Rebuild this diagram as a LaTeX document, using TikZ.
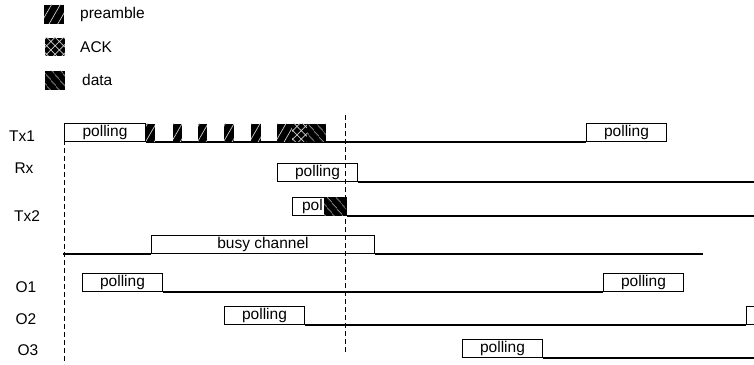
\documentclass[tikz,border=0pt]{standalone}
\usepackage{fontspec}
\setmainfont{Liberation Sans}
\usetikzlibrary{patterns.meta}
\begin{document}
\begin{tikzpicture}[x=1pt,y=-1pt,
  txt/.style={font=\fontsize{15.5}{15.5}\selectfont, inner sep=0pt},
  pbox/.style={draw, line width=1pt, fill=white, inner sep=0pt, anchor=south west,
    font=\fontsize{15.5}{15.5}\selectfont, minimum height=18.5pt},
  tl/.style={line width=1.1pt},
  vdash/.style={line width=1pt, dash pattern=on 5pt off 3pt},
  blk/.style={fill=black, inner sep=0pt, anchor=south west, minimum height=18pt},
  pre/.style={blk, postaction={pattern={Lines[angle=60,distance=7.5pt,line width=0.7pt]}, pattern color=white!80!black}},
  dat/.style={blk, postaction={pattern={Lines[angle=-50,distance=6.5pt,line width=0.7pt]}, pattern color=white!80!black}},
  ack/.style={blk, postaction={pattern={Hatch[angle=45,distance=6pt,line width=0.7pt]}, pattern color=white!80!black}},
]
\useasboundingbox (0,0) rectangle (754,364);
\clip (0,0) rectangle (754,364);

% legend
\node[pre, minimum width=20pt, minimum height=19pt] (lpre) at (44,24) {};
\node[txt, anchor=west] (lpret) at (80,14) {preamble};
\node[ack, minimum width=20pt, minimum height=18pt] (lack) at (45,56) {};
\node[txt, anchor=west] (lackt) at (80,47) {ACK};
\node[dat, minimum width=20pt, minimum height=19pt] (ldat) at (45,90) {};
\node[txt, anchor=west] (ldatt) at (82,80) {data};

% row labels
\node[txt] (ltx1) at (22,136) {Tx1};
\node[txt] (lrx) at (24,168) {Rx};
\node[txt] (ltx2) at (27,216) {Tx2};
\node[txt] (lo1) at (26,287) {O1};
\node[txt] (lo2) at (26,319) {O2};
\node[txt] (lo3) at (28,350) {O3};

% Tx1
\node[pbox, minimum width=81pt] (t1a) at (64,142) {polling};
\node[pbox, minimum width=80pt] (t1b) at (586,142) {polling};
\draw[tl] (t1a.south east) -- (t1b.south west);
\node[pre, minimum width=9pt] (p1) at (146,142) {};
\node[pre, minimum width=9pt] (p2) at (173,142) {};
\node[pre, minimum width=9pt] (p3) at (198,142) {};
\node[pre, minimum width=10pt] (p4) at (224,142) {};
\node[pre, minimum width=10pt] (p5) at (251,142) {};
\node[pre, minimum width=15pt] (p6) at (277,142) {};
\node[ack, minimum width=15pt] (a6) at (292,142) {};
\node[dat, minimum width=19pt] (d6) at (307,142) {};

% Rx
\node[pbox, minimum width=80pt] (rx) at (277,182) {polling};
\coordinate (rxe) at (755,182);
\draw[tl] (rx.south east) -- (rxe);

% Tx2
\node[pbox, minimum width=54pt] (tx2) at (292,216) {};
\node[dat, minimum width=22pt] (tx2d) at (324,216) {};
\node[txt, anchor=east] (tx2t) at (323,206) {pol};
\coordinate (tx2e) at (755,216);
\draw[tl] (tx2.south east) -- (tx2e);

% busy channel
\coordinate (bl) at (63,254);
\coordinate (br) at (703,254);
\node[pbox, minimum width=223pt] (busy) at (151,254) {busy channel};
\draw[tl] (bl) -- (busy.south west);
\draw[tl] (busy.south east) -- (br);

% O1
\node[pbox, minimum width=80pt] (o1a) at (82,292) {polling};
\node[pbox, minimum width=80pt] (o1b) at (603,292) {polling};
\draw[tl] (o1a.south east) -- (o1b.south west);

% O2
\node[pbox, minimum width=80pt] (o2a) at (224,325) {polling};
\node[pbox, minimum width=80pt] (o2b) at (746,325) {};
\draw[tl] (o2a.south east) -- (o2b.south west);

% O3
\node[pbox, minimum width=80pt] (o3) at (462,358) {polling};
\coordinate (o3e) at (755,358);
\draw[tl] (o3.south east) -- (o3e);

% dashed verticals
\coordinate (v1t) at (64,124);
\coordinate (v1b) at (64,364);
\coordinate (v2t) at (345.5,115);
\coordinate (v2b) at (345.5,353);
\draw[vdash] (v1t) -- (v1b);
\draw[vdash] (v2t) -- (v2b);
\end{tikzpicture}
\end{document}
